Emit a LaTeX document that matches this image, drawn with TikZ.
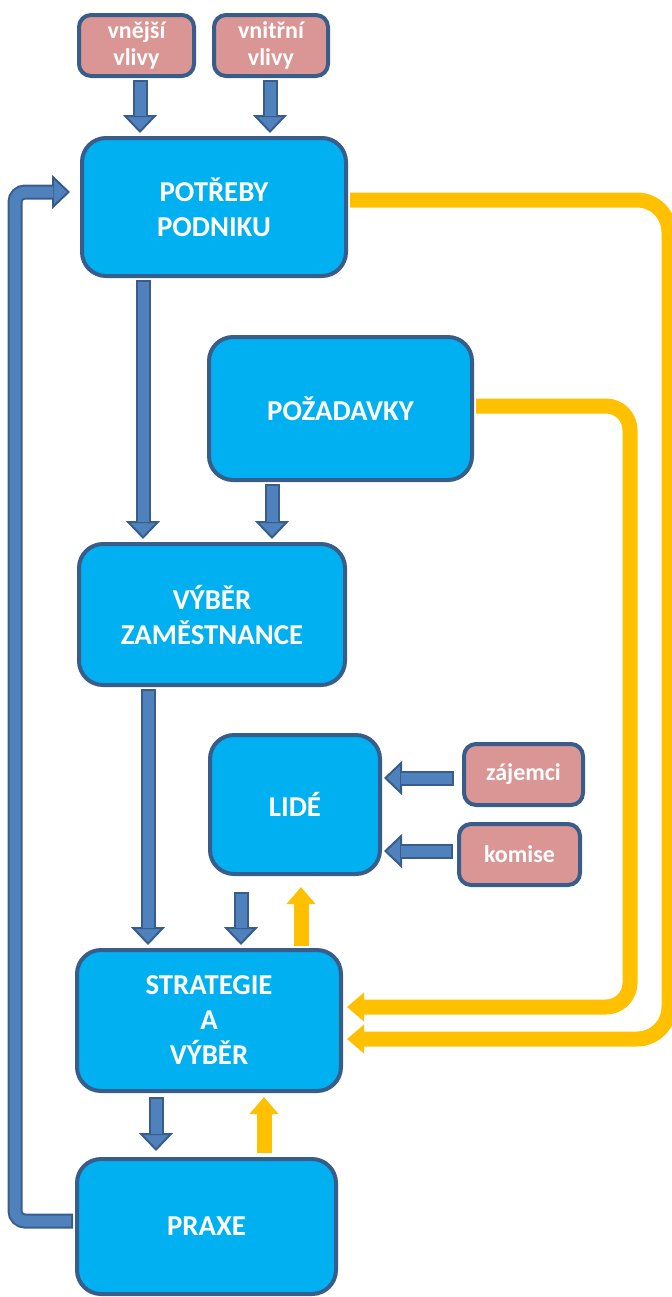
\documentclass[tikz,border=0pt]{standalone}
\usepackage{fontspec}
\setmainfont{Carlito}
\usetikzlibrary{arrows.meta,calc}
\definecolor{boxfill}{HTML}{00B0F0}
\definecolor{bord}{HTML}{385D8A}
\definecolor{pinkfill}{HTML}{D99694}
\definecolor{afill}{HTML}{4F81BD}
\definecolor{yel}{HTML}{FFC000}
\begin{document}
\begin{tikzpicture}[x=0.5pt,y=-0.5pt,
 bigbox/.style={draw=bord, fill=boxfill, line width=2pt, rounded corners=12pt, text=white,
   font=\bfseries\fontsize{14.4}{17.5}\selectfont, align=center, inner sep=0pt},
 smallbox/.style={draw=bord, fill=pinkfill, line width=2pt, rounded corners=6pt, text=white,
   font=\bfseries\fontsize{12}{13.5}\selectfont, align=center, inner sep=0pt},
 barrow/.style={draw=bord, line width=7.5pt,
   -{Triangle[width=17pt,length=9pt,fill=afill,line width=1pt]},
   postaction={draw=afill, line width=5.5pt, arrows=-, shorten >=8.3pt, shorten <=1pt}},
 yarrow/.style={draw=yel, line width=7.5pt, -{Triangle[width=14pt,length=8.5pt]}},
]
\useasboundingbox (0,0) rectangle (671,1297);

% nodes
\node[smallbox, minimum width=57.5pt, minimum height=30.5pt] (v1) at (136.5,45.5) {vnější\\vlivy};
\node[smallbox, minimum width=57pt, minimum height=30.5pt] (v2) at (271,45.5) {vnitřní\\vlivy};
\node[bigbox, minimum width=132pt, minimum height=69pt] (p) at (214,207) {POTŘEBY\\PODNIKU};
\node[bigbox, minimum width=131.5pt, minimum height=71.5pt] (pz) at (340.5,408.5) {POŽADAVKY};
\node[bigbox, minimum width=133pt, minimum height=70.5pt] (vz) at (212,614.5) {VÝBĚR\\ZAMĚSTNANCE};
\node[bigbox, minimum width=85pt, minimum height=69.5pt] (l) at (295,804.5) {LIDÉ};
\node[smallbox, minimum width=59.5pt, minimum height=30.5pt] (z) at (523.5,774.5) {zájemci};
\node[smallbox, minimum width=60.5pt, minimum height=30.5pt] (k) at (519.5,854.5) {komise};
\node[bigbox, minimum width=132pt, minimum height=70.5pt] (s) at (209,1020.5) {STRATEGIE\\A\\VÝBĚR};
\node[bigbox, minimum width=129.5pt, minimum height=67.5pt] (px) at (206.5,1226.5) {PRAXE};

% blue connectors
\draw[barrow] ($(v1.south)+(3.5,2)$) -- ($(v1.south |- p.north)+(3.5,-3)$);
\draw[barrow] ($(v2.south)+(-1,2)$) -- ($(v2.south |- p.north)+(-1,-3)$);
\draw[barrow] ($(p.south)+(-71,2)$) -- ($(p.south |- vz.north)+(-71,-3)$);
\draw[barrow] ($(pz.south)+(-68.5,2)$) -- ($(pz.south |- vz.north)+(-68.5,-3)$);
\draw[barrow] ($(vz.south)+(-64,2)$) -- ($(vz.south |- s.north)+(-64,-3)$);
\draw[barrow] ($(l.south)+(-54,16)$) -- ($(l.south |- s.north)+(-54,-3)$);
\draw[barrow] ($(z.west)+(-8.5,3.5)$) -- ($(z.west -| l.east)+(2,3.5)$);
\draw[barrow] ($(k.west)+(-4.5,-3.5)$) -- ($(k.west -| l.east)+(2,-3.5)$);
\draw[barrow] ($(s.south)+(-53,4)$) -- ($(s.south |- px.north)+(-53,-6)$);
\draw[barrow, rounded corners=5pt] ($(px.west)+(-2,-5.5)$) -| ($(p.west)+(-65,-15)$) -- ($(p.west)+(-10,-15)$);

% yellow connectors
\draw[yarrow] ($(l.south |- s.north)+(6,-2)$) -- ($(l.south)+(6,11)$);
\draw[yarrow] ($(px.north)+(57.5,-4)$) -- ($(px.north |- s.south)+(57.5,4)$);
\draw[yarrow, rounded corners=16pt] ($(p.east)+(2,-7)$) -| ($(s.east)+(326,18.5)$) -- ($(s.east)+(4,18.5)$);
\draw[yarrow, rounded corners=12pt] ($(pz.east)+(2,-2.5)$) -| ($(s.east)+(287,-13.5)$) -- ($(s.east)+(4,-13.5)$);
\end{tikzpicture}
\end{document}
